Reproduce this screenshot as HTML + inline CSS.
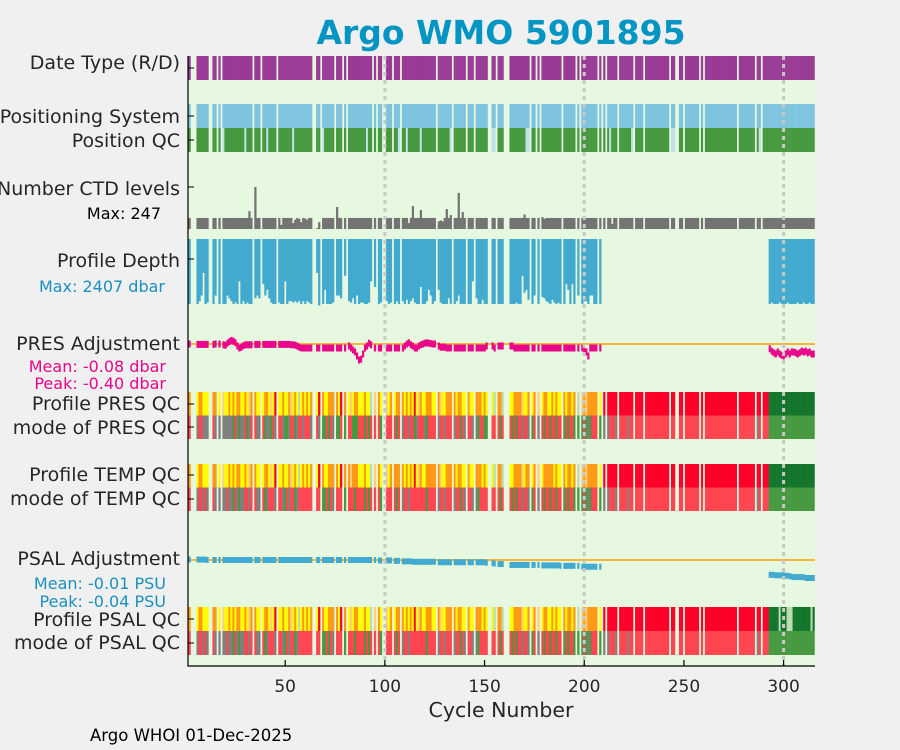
<!DOCTYPE html>
<html><head><meta charset="utf-8"><style>
html,body{margin:0;padding:0;background:#f0f0f0;}
svg{display:block;font-family:"DejaVu Sans","Liberation Sans",sans-serif;}
.lbl{font-size:19px;fill:#262626;text-anchor:end;}
</style></head><body>
<svg id="chart" width="900" height="750" viewBox="0 0 900 750">
<defs><clipPath id="clip"><rect x="188" y="56" width="627" height="610"/></clipPath></defs>
<rect x="0" y="0" width="900" height="750" fill="#f0f0f0"/>
<text x="501" y="44" text-anchor="middle" font-size="33" font-weight="bold" fill="#0095c3">Argo WMO 5901895</text>
<rect x="188" y="56" width="627" height="610" fill="#e6f8e0"/>
<g id="marks" clip-path="url(#clip)"></g>
<g id="grid"></g>
<line x1="188" y1="56" x2="188" y2="666.5" stroke="#000" stroke-width="1.2"/>
<line x1="187.5" y1="666" x2="815" y2="666" stroke="#000" stroke-width="1.2"/>
<g id="xticks"></g>
<text x="501" y="717" text-anchor="middle" font-size="20.5" fill="#262626">Cycle Number</text>
<text x="90" y="741" font-size="16.5" fill="#000">Argo WHOI 01-Dec-2025</text>
<g>
<text class="lbl" x="180" y="69">Date Type (R/D)</text>
<text class="lbl" x="180" y="123">Positioning System</text>
<text class="lbl" x="180" y="147">Position QC</text>
<text class="lbl" x="180" y="195">Number CTD levels</text>
<text x="161" y="219" text-anchor="end" font-size="16" fill="#000">Max: 247</text>
<text class="lbl" x="180" y="267">Profile Depth</text>
<text x="165" y="292" text-anchor="end" font-size="16" fill="#1a90c0">Max: 2407 dbar</text>
<text class="lbl" x="180" y="350">PRES Adjustment</text>
<text x="166" y="372" text-anchor="end" font-size="16" fill="#e8068a">Mean: -0.08 dbar</text>
<text x="166" y="389" text-anchor="end" font-size="16" fill="#e8068a">Peak: -0.40 dbar</text>
<text class="lbl" x="180" y="410">Profile PRES QC</text>
<text class="lbl" x="180" y="434">mode of PRES QC</text>
<text class="lbl" x="180" y="481">Profile TEMP QC</text>
<text class="lbl" x="180" y="505">mode of TEMP QC</text>
<text class="lbl" x="180" y="565">PSAL Adjustment</text>
<text x="166" y="589" text-anchor="end" font-size="16" fill="#1a90c0">Mean: -0.01 PSU</text>
<text x="166" y="607" text-anchor="end" font-size="16" fill="#1a90c0">Peak: -0.04 PSU</text>
<text class="lbl" x="180" y="626">Profile PSAL QC</text>
<text class="lbl" x="180" y="649">mode of PSAL QC</text>
</g>
<g id="yticks"></g>
</svg>
<script>
const NC = 315;
const missingCycles = [3,4,5,12,13,16,18,34,38,46,64,65,68,75,79,81,94,96,99,100,104,108,126,134,141,145,152,153,156,160,161,162,173,176,178,189,196,198,207,209,211,217,225,230,243,246,247,250,258,260,277,286,289];
const posQcBad = [19,30,41,54,69,91,107,111,118,133,154,155,171,172,213,217,224,244,245,288];
const ctdLevels = [
65,65,65,65,65,65,65,65,65,65, 65,65,65,65,65,65,65,65,65,65,
65,65,65,65,65,65,65,65,65,65, 65,105,65,65,247,65,65,65,65,65,
65,65,65,65,65,65,65,24,65,65, 65,65,65,35,55,65,60,40,65,62,
55,65,65,65,65,5,40,65,65,65, 65,65,65,65,65,129,65,65,65,65,
65,65,65,65,65,65,65,65,65,65, 65,65,65,65,65,65,65,65,65,65,
65,65,65,65,65,65,65,65,65,65, 65,35,65,135,65,65,65,112,65,65,
65,65,65,65,65,65,45,50,45,65, 117,65,82,65,65,65,212,65,100,65,
65,65,65,65,65,65,65,65,65,65, 65,65,65,65,65,65,65,65,65,65,
65,65,65,65,65,65,65,65,65,85, 65,65,65,65,65,65,65,65,70,60,
65,65,65,65,65,65,65,65,65,65, 65,65,65,65,65,65,65,65,65,65,
65,65,65,65,65,65,65,65,65,65, 65,65,65,30,65,65,65,65,65,65,
65,65,65,65,65,65,65,65,65,65, 65,65,65,65,65,65,65,65,65,65,
65,65,65,65,65,65,65,65,65,65, 65,65,65,65,65,65,65,65,65,65,
65,65,65,65,65,65,65,65,65,65, 65,65,65,65,65,65,65,65,65,65,
65,65,65,65,65,65,65,65,65,65, 65,65,65,65,65,65,65,65,65,65,
65,65,65,65,65,65,65,65,65,65, 65,65,65,65,65,65,65,65,65,65];
const profileDepth = [
2300,2300,0,0,0,2300,2200,2000,1200,2300, 2250,0,0,2300,2000,0,2300,0,2300,2300,
2000,2100,2200,2300,2250,2300,1500,2300,2200,2300, 2250,2300,2300,0,2100,2000,2100,0,1600,2000,
1800,2100,2250,2300,2300,0,2250,2300,2300,1500, 2300,2200,2200,2250,2200,2250,2200,2300,2200,2300,
2200,2250,2300,0,0,1200,2350,0,2300,1800, 2300,2300,2300,2250,0,2000,2000,2100,0,1300,
0,2200,2250,2100,2300,2000,2300,2250,2250,2300, 2300,2250,1500,0,1700,0,2300,2250,0,0,
2200,2300,2250,0,2300,2200,2300,0,2200,2300, 2150,2300,2200,2100,2250,2300,2300,1700,2300,2300,
2200,1800,2000,2300,2200,0,1800,2250,2300,2300, 2300,2100,2300,0,2300,2200,2000,2300,2300,2300,
0,2300,2300,1500,0,2100,2300,2300,2150,2300, 2300,0,0,2300,2300,0,2300,2300,2300,0,
0,0,2300,2300,2300,2250,2300,2300,1300,1900, 1800,2150,0,2300,2000,0,2300,0,2050,2100,
2200,2250,2300,2150,2250,2300,2250,2300,0,2300, 1600,1800,2300,1600,2300,0,2000,0,2300,2200,
2200,2300,2000,2000,2300,2300,0,2300,0,0, 0,0,0,0,0,0,0,0,0,0,
0,0,0,0,0,0,0,0,0,0, 0,0,0,0,0,0,0,0,0,0,
0,0,0,0,0,0,0,0,0,0, 0,0,0,0,0,0,0,0,0,0,
0,0,0,0,0,0,0,0,0,0, 0,0,0,0,0,0,0,0,0,0,
0,0,0,0,0,0,0,0,0,0, 0,0,2300,2250,2300,2300,2300,2250,2300,2300,
2300,2250,2300,2300,2300,2300,2250,2300,2300,2250, 2300,2300,2250,2300,2300];
const presAdj = [
0,0,0,0,0,-0.01,-0.01,-0.01,-0.01,-0.01, -0.01,0,0,-0.01,0,0,0,0,-0.02,-0.03,
0.02,0.06,0.09,0.07,0.03,-0.05,-0.1,-0.08,-0.04,-0.02, -0.02,-0.02,-0.02,-0.01,-0.01,-0.01,-0.01,-0.01,-0.01,-0.01,
-0.01,-0.01,-0.01,-0.01,-0.01,-0.01,-0.01,-0.01,-0.01,-0.01, -0.01,-0.01,-0.02,-0.02,-0.03,-0.05,-0.08,-0.1,-0.1,-0.1,
-0.1,-0.1,-0.1,-0.1,-0.1,-0.1,-0.1,-0.1,-0.1,-0.1, -0.1,-0.1,-0.1,-0.1,-0.1,-0.1,-0.1,-0.1,-0.1,-0.1,
-0.05,-0.05,-0.1,-0.15,-0.2,-0.3,-0.4,-0.38,-0.25,-0.1, -0.05,0.02,-0.02,-0.02,-0.1,-0.1,-0.1,-0.1,-0.1,-0.1,
-0.1,-0.1,-0.1,-0.1,-0.1,-0.1,-0.1,-0.1,-0.1,-0.05, 0,0.03,-0.02,-0.05,-0.1,-0.1,-0.05,-0.02,0,0.02,
0.03,0.02,0.01,0,0,-0.02,-0.05,-0.08,-0.08,-0.08, -0.1,-0.1,-0.1,-0.1,-0.1,-0.1,-0.1,-0.1,-0.1,-0.1,
-0.1,-0.1,-0.1,-0.1,-0.1,-0.1,-0.1,-0.1,-0.1,-0.1, -0.05,-0.05,0.02,-0.05,-0.1,-0.1,-0.05,-0.05,-0.05,-0.05,
-0.05,-0.05,-0.05,-0.05,-0.1,-0.1,-0.1,-0.1,-0.1,-0.1, -0.1,-0.1,-0.1,-0.1,-0.1,-0.1,-0.1,-0.1,-0.1,-0.1,
-0.1,-0.1,-0.1,-0.1,-0.1,-0.1,-0.1,-0.1,-0.1,-0.1, -0.1,-0.1,-0.1,-0.1,-0.1,-0.1,-0.1,-0.1,-0.1,-0.15,
-0.2,-0.3,-0.1,-0.1,-0.1,-0.1,-0.1,-0.1,-0.1,null, null,null,null,null,null,null,null,null,null,null,
null,null,null,null,null,null,null,null,null,null, null,null,null,null,null,null,null,null,null,null,
null,null,null,null,null,null,null,null,null,null, null,null,null,null,null,null,null,null,null,null,
null,null,null,null,null,null,null,null,null,null, null,null,null,null,null,null,null,null,null,null,
null,null,null,null,null,null,null,null,null,null, null,null,-0.12,-0.18,-0.22,-0.25,-0.2,-0.25,-0.28,-0.3,
-0.25,-0.2,-0.25,-0.2,-0.2,-0.22,-0.25,-0.22,-0.18,-0.2, -0.18,-0.22,-0.2,-0.25,-0.25];
const psalAdj = [
0.001,0.001,0,0,0,0.001,0.001,0.001,0.001,0.001, 0,0,0,0,0,0,0,0,0,0,
0,0,0,0,0,0,0,0,0,0, 0,0,0,0,0,0,0,0,0,0,
0,0,0,0,0,0,0,0,0,0, 0,0,0,0,0,0,0,0,0,0,
0,0,0,0,0,0,0,0,0,0, 0,0,0,0,0,0,0,0,0,0,
0,0,0,0,0,0,0,0,0,0, 0,0,0,0,0,0,-0.001,-0.001,-0.001,-0.001,
-0.001,-0.001,-0.001,-0.002,-0.002,-0.002,-0.002,-0.003,-0.003,-0.003, -0.003,-0.003,-0.003,-0.004,-0.004,-0.004,-0.004,-0.004,-0.004,-0.004,
-0.004,-0.004,-0.004,-0.004,-0.004,-0.004,-0.005,-0.005,-0.005,-0.005, -0.005,-0.005,-0.005,-0.005,-0.005,-0.005,-0.005,-0.005,-0.005,-0.005,
-0.005,-0.005,-0.005,-0.005,-0.005,-0.005,-0.005,-0.005,-0.005,-0.005, -0.006,-0.006,-0.007,-0.007,-0.008,-0.008,-0.009,-0.009,-0.009,-0.009,
-0.009,-0.009,-0.011,-0.011,-0.011,-0.011,-0.011,-0.011,-0.011,-0.011, -0.011,-0.011,-0.011,-0.011,-0.011,-0.011,-0.011,-0.012,-0.012,-0.012,
-0.012,-0.012,-0.012,-0.012,-0.012,-0.012,-0.012,-0.013,-0.013,-0.013, -0.013,-0.013,-0.013,-0.013,-0.013,-0.013,-0.013,-0.013,-0.015,-0.015,
-0.015,-0.015,-0.015,-0.015,-0.015,-0.015,null,-0.015,null,null, null,null,null,null,null,null,null,null,null,null,
null,null,null,null,null,null,null,null,null,null, null,null,null,null,null,null,null,null,null,null,
null,null,null,null,null,null,null,null,null,null, null,null,null,null,null,null,null,null,null,null,
null,null,null,null,null,null,null,null,null,null, null,null,null,null,null,null,null,null,null,null,
null,null,null,null,null,null,null,null,null,null, null,null,-0.033,-0.033,-0.033,-0.034,-0.034,-0.034,-0.034,-0.034,
-0.035,-0.035,-0.036,-0.037,-0.038,-0.038,-0.038,-0.038,-0.038,-0.038, -0.04,-0.04,-0.04,-0.04,-0.04];
const presQC = ["OOOOYYOOYY","YOYOOYYOLY","YOYOYOOYYO","YLOYOYYOYO","OYLYRYYYOY","YOLYOYGYOY","OYOOOYROOY","YOOOOOYRYO","OYLYOOYYYO","YYGYLYOYGY",
"LYOOYOOOOY","OYOYRYLOYY","OOOYYOOLYY","OOOOOYOOYY","YOYYYOOOYO","YYOYGOOOGO","OLYYOOOOLY","YOOYOOLOYO","OYYOYOYYOO","YOOYOYGOLO",
"LOOOOOOYOR","RRRRRRRRRR","RRRRRRRRRR","RRRRRRRRRR","RRRRRRRRRR","RRRRRRRRRR","RRRRRRRRRR","RRRRRRRRRR","RRRRRRRRRR","RRDDDDDDDD","DDDDDDDDDD","DDDDD"].join('');
const presMode = ["nrrrrgrrgg","grgrgggggg","gggnrgnggr","ngrnrggrrn","ggnrgnrrgn","ngrrngrrgr","rrgnrrgrnn","rnrgrnnrrn","nrrnnnrrrn","rnrnrnrnng",
"rrrgrnrrgr","rgrrngrrrg","nrrrrggrrg","rrrrgrrnrg","nrrgrgnrrn","nrnrrgrnrr","nrrnrnrrgr","rgrnrrgnrn","rrnrrnrrrn","rnrrnrngnr",
"ngnrrrrnrg","rgrrrgrrrr","rgrrrrrrrr","rrrrrrrrrr","rrrrrrrrrr","rrrrrrrrrr","rrrrrrrrrr","rrrrrrrrrr","rrrrrrgrrr","rrnnnnnnnn","nnnnnnnnnn","nnnnn"].join('');
const tempQC = ["OOOOYYOOYY","YOYOOYYOLY","YOYOYOOYYO","YLOYOYYOYO","OYLYRYYYOY","YOLYOYGYOY","OYOOOYROOY","YOOOOOYRYO","OOLOOOYYYO","YYGYLYOYGY",
"LYOOOOOOOY","OYOYRYLOYY","OOOOOOOLYY","OOOOOYOOYY","YOYYYOOOYO","YYOYGOOOGO","OLYYOOOOLY","OOOYOOLOYO","OOOOYOYYOO","YOOYOYGOLO",
"LOOOOOOYOR","RRRRRRRRRR","RRRRRRRRRR","RRRRRRRRRR","RRRRRRRRRR","RRRRRRRRRR","RRRRRRRRRR","RRRRRRRRRR","RRRRRRRRRR","RRDDDDDDDD","DDDDDDDDDD","DDDDD"].join('');
const tempMode = ["rrrrrgrrgr","grgrgggggg","rggnrgnggr","rgrnrggrrn","grrrgnrrgn","rgrrngrrrr","rrrrrrrrnn","rnrgrrrrrn","rrrrnrrrrn","rnrnrrrnrg",
"rrrgrnrrgr","rgrrrrrrrr","nrrrrggrrg","rrrrgrrnrg","nrrgrgnrrr","rrrrrgrnrr","nrrnrnrrgr","rgrnrrgnrn","rrnrrnrrrn","rnrrnrngnr",
"ngnrrrrnrg","rgrrrgrrrr","rgrrrrrrrr","rrrrrrrrrr","rrrrrrrrrr","rrrrrrrrrr","rrrrrrrrrr","rrrrrrrrrr","rrrrrrgrrr","rrnnnnnnnn","nnnnnnnnnn","nnnnn"].join('');
const psalQC = ["OOOOYYOOYY","YOYOOYYOLY","YOYOYOOYYO","YLOYOYYOYO","OYLYRYYYOY","YOLYOYGYOY","OYOOOYROOY","YOOOOOYRYO","OYLYOOYYYO","YYGYLYOYGY",
"LYOOYOOOOY","OYOYRYLOYY","OOOYYOOLYY","OOOOOYOOYY","YOYYYOOOYO","YYOYGOOOGO","OLYYOOOOLY","YOOYOOLOYO","OYYOYOYYOO","YOOYOYGOLO",
"LOOOOOOYOR","RRRRRRRRRR","RRRRRRRRRR","RRRRRRRRRR","RRRRRRRRRR","RRRRRRRRRR","RRRRRRRRRR","RRRRRRRRRR","RRRRRRRRRR","RRDDDDDGDD","DGGGDDDDDD","DDDGD"].join('');
const psalMode = tempMode;
const xTicks = [50,100,150,200,250,300];
const gridCycles = [100,200,300];

const qcColors = {Y:'#ffff00',O:'#ff9a14',L:'#ffcc80',G:'#bcdcb0',R:'#ff0029',D:'#13752b',r:'#ff4650',g:'#808080',n:'#46993f'};
const NS = 'http://www.w3.org/2000/svg';
const X0 = 188, X1 = 815, C0 = 1.25, C1 = 315.75;
function xs(c){ return X0 + (c - C0) * (X1 - X0) / (C1 - C0); }
function mk(parent, tag, attrs){ const e = document.createElementNS(NS, tag); for (const k in attrs) e.setAttribute(k, attrs[k]); parent.appendChild(e); return e; }
const marks = document.getElementById('marks');
const miss = new Set(missingCycles);
function present(c){ return !miss.has(c); }
function bar(c, y0, y1, fill, name){
  const x = xs(c - 0.5), w = xs(c + 0.5) - x + 0.25;
  const r = mk(marks, 'rect', {x: x.toFixed(2), y: Math.min(y0,y1).toFixed(2), width: w.toFixed(2), height: Math.abs(y1-y0).toFixed(2), fill: fill});
  
  
  return r;
}
const yCtd = v => 229 - v * 42 / 247;
const yDepth = d => 239 + d * 68 / 2407;
const yPres = v => 344 - v * 40;
const yPsal = v => 560 - v * 450;

for (let c = 1; c <= NC; c++){
  if (!present(c)) continue;
  const i = c - 1;
  bar(c, 56, 80, '#9a3b96', 'date-type-bar');
  bar(c, 104, 128, '#7fc4df', 'positioning-system-bar');
  bar(c, 128, 152, posQcBad.includes(c) ? '#c0e0e8' : '#46993f', 'position-qc-bar');
  if (ctdLevels[i] > 0) bar(c, yCtd(ctdLevels[i]), 229, '#737373', 'ctd-levels-bar');
  if (profileDepth[i] > 0) bar(c, 239, yDepth(profileDepth[i]), '#42aacf', 'profile-depth-bar');
  bar(c, 392, 415.5, qcColors[presQC[i]], 'pres-qc-bar');
  bar(c, 415.5, 439, qcColors[presMode[i]], 'pres-qc-mode-bar');
  bar(c, 464, 487.5, qcColors[tempQC[i]], 'temp-qc-bar');
  bar(c, 487.5, 511, qcColors[tempMode[i]], 'temp-qc-mode-bar');
  bar(c, 607, 631, qcColors[psalQC[i]], 'psal-qc-bar');
  bar(c, 631, 655, qcColors[psalMode[i]], 'psal-qc-mode-bar');
}
const l1 = mk(marks, 'line', {x1: 188, x2: 815, y1: 344, y2: 344, stroke: '#f7b538', 'stroke-width': 2});


const l2 = mk(marks, 'line', {x1: 188, x2: 815, y1: 560, y2: 560, stroke: '#f7b538', 'stroke-width': 2});


for (let c = 1; c <= NC; c++){
  const i = c - 1;
  if (!present(c)) continue;
  if (presAdj[i] !== null && presAdj[i] !== undefined){ const y = yPres(presAdj[i]); bar(c, y - 3.5, y + 3.5, '#e8068a', 'pres-adjustment-mark'); }
  if (psalAdj[i] !== null && psalAdj[i] !== undefined){ const y = yPsal(psalAdj[i]); bar(c, y - 3, y + 3, '#42aacf', 'psal-adjustment-mark'); }
}
const grid = document.getElementById('grid');
gridCycles.forEach(c => {
  const g = mk(grid, 'line', {x1: xs(c), x2: xs(c), y1: 56, y2: 666, stroke: '#c8c8c8', 'stroke-width': 3, 'stroke-dasharray': '4 4'});
  
  
});
const xt = document.getElementById('xticks');
xTicks.forEach(t => {
  const l = mk(xt, 'line', {x1: xs(t), x2: xs(t), y1: 666, y2: 660, stroke: '#000', 'stroke-width': 1.2});
  
  
  const tx = mk(xt, 'text', {x: xs(t), y: 692, 'text-anchor': 'middle', 'font-size': 17, fill: '#262626'});
  tx.textContent = t;
  
  
});
const yt = document.getElementById('yticks');
[68,116,140,187,259,404,427,475,499,619,643].forEach(y => {
  const l = mk(yt, 'line', {x1: 188, x2: 194, y1: y, y2: y, stroke: '#000', 'stroke-width': 1});
  
  
});
</script>
</body></html>
